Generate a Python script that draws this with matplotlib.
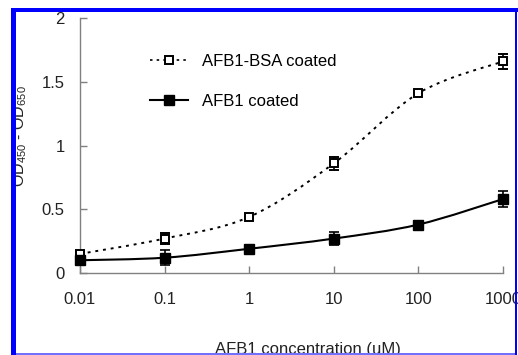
import numpy as np
import matplotlib
matplotlib.use('Agg')
import matplotlib.pyplot as plt
from matplotlib.path import Path
from matplotlib.patches import PathPatch, Rectangle

plt.rcParams['font.family'] = ['Liberation Sans', 'DejaVu Sans']
plt.rcParams['mathtext.fontset'] = 'custom'
plt.rcParams['mathtext.rm'] = 'Liberation Sans'
plt.rcParams['mathtext.default'] = 'regular'

# data
conc = [0.01, 0.1, 1, 10, 100, 1000]
conc_labels = ['0.01', '0.1', '1', '10', '100', '1000']
bsa_od = [0.15, 0.27, 0.44, 0.86, 1.41, 1.66]
bsa_err = [0.02, 0.04, 0.0, 0.05, 0.0, 0.06]
afb_od = [0.10, 0.12, 0.19, 0.27, 0.38, 0.58]
afb_err = [0.04, 0.06, 0.0, 0.05, 0.0, 0.06]
y_ticks = [0, 0.5, 1, 1.5, 2]
y_tick_labels = ['0', '0.5', '1', '1.5', '2']

W, H = 518, 355
fig = plt.figure(figsize=(W / 100, H / 100), dpi=100)
ax = fig.add_axes([80 / W, 82 / H, 423 / W, 255 / H])


def smooth_path(xs, ys):
    # Excel-like smoothed line: Catmull-Rom segments as cubic Beziers in log-x space
    lx = np.log10(xs)
    ys = np.asarray(ys, dtype=float)
    n = len(lx)
    verts = [(xs[0], ys[0])]
    codes = [Path.MOVETO]
    for i in range(n - 1):
        i0 = max(i - 1, 0)
        i3 = min(i + 2, n - 1)
        c1x = lx[i] + (lx[i + 1] - lx[i0]) / 6
        c1y = ys[i] + (ys[i + 1] - ys[i0]) / 6
        c2x = lx[i + 1] - (lx[i3] - lx[i]) / 6
        c2y = ys[i + 1] - (ys[i3] - ys[i]) / 6
        verts += [(10 ** c1x, c1y), (10 ** c2x, c2y), (xs[i + 1], ys[i + 1])]
        codes += [Path.CURVE4] * 3
    return Path(verts, codes)


ax.set_xscale('log')

ax.add_patch(PathPatch(smooth_path(conc, bsa_od), fill=False, color='black',
                       lw=1.4, linestyle=(0, (1.5, 2.5)), clip_on=False))
ax.add_patch(PathPatch(smooth_path(conc, afb_od), fill=False, color='black',
                       lw=1.5, clip_on=False))

ax.errorbar(conc, bsa_od, yerr=bsa_err, fmt='s', ms=6, mfc='white', mec='black',
            mew=1.4, ecolor='black', elinewidth=1.2, capsize=3.5, capthick=1.2,
            clip_on=False, zorder=3)
ax.errorbar(conc, afb_od, yerr=afb_err, fmt='s', ms=7, mfc='black', mec='black',
            ecolor='black', elinewidth=1.2, capsize=3.5, capthick=1.2,
            clip_on=False, zorder=3)

# legend handles
h1, = ax.plot([], [], color='black', lw=1.2, linestyle=(0, (1.5, 2.5)),
              marker='s', ms=6, mfc='white', mec='black', mew=1.4)
h2, = ax.plot([], [], color='black', lw=1.5, marker='s', ms=6.5, mfc='black')
ax.legend([h1, h2], ['AFB1-BSA coated', 'AFB1 coated'], frameon=False,
          loc='upper left', bbox_to_anchor=(150 / W, 1 - 54 / H),
          bbox_transform=fig.transFigure, fontsize=12, handlelength=2.3,
          handletextpad=0.8, labelspacing=1.5, borderpad=0, borderaxespad=0)

ax.set_xlim(0.01, 1000)
ax.set_ylim(0, 2)
ax.set_xticks(conc)
ax.set_xticklabels(conc_labels)
ax.minorticks_off()
ax.set_yticks(y_ticks)
ax.set_yticklabels(y_tick_labels)

for side in ['top', 'right']:
    ax.spines[side].set_visible(False)
for side in ['left', 'bottom']:
    ax.spines[side].set_color('#808080')
    ax.spines[side].set_linewidth(1.0)
ax.tick_params(axis='both', direction='in', length=5, width=1.0, color='#808080',
               labelsize=12, labelcolor='#222222')
ax.tick_params(axis='x', pad=14)
ax.tick_params(axis='y', pad=11)

fig.text(308 / W, 1 - 342 / H, 'AFB1 concentration (uM)', ha='center', va='top',
         fontsize=12, color='#222222')
fig.text(20 / W, 1 - 136 / H, r'OD$_{450}$ - OD$_{650}$', rotation=90,
         ha='center', va='center', fontsize=11.5, color='#222222')

# blue frame around the figure
blue = '#0000ff'
fig.add_artist(Rectangle((0, 0), 11 / W, 1, transform=fig.transFigure,
                         facecolor='white', edgecolor='none', zorder=10))
fig.add_artist(Rectangle((11 / W, 0), 5 / W, 1 - 8 / H, transform=fig.transFigure,
                         facecolor=blue, edgecolor='none', zorder=11))
fig.add_artist(Rectangle((11 / W, 1 - 12 / H), 1 - 11 / W, 4 / H,
                         transform=fig.transFigure, facecolor=blue,
                         edgecolor='none', zorder=11))
fig.add_artist(Rectangle((1 - 3 / W, 0), 2 / W, 1 - 8 / H, transform=fig.transFigure,
                         facecolor=blue, edgecolor='none', zorder=11))
fig.add_artist(Rectangle((16 / W, 0), 1 - 19 / W, 2 / H, transform=fig.transFigure,
                         facecolor='#7070ff', edgecolor='none', zorder=11))

fig.savefig('out.png', dpi=100)
